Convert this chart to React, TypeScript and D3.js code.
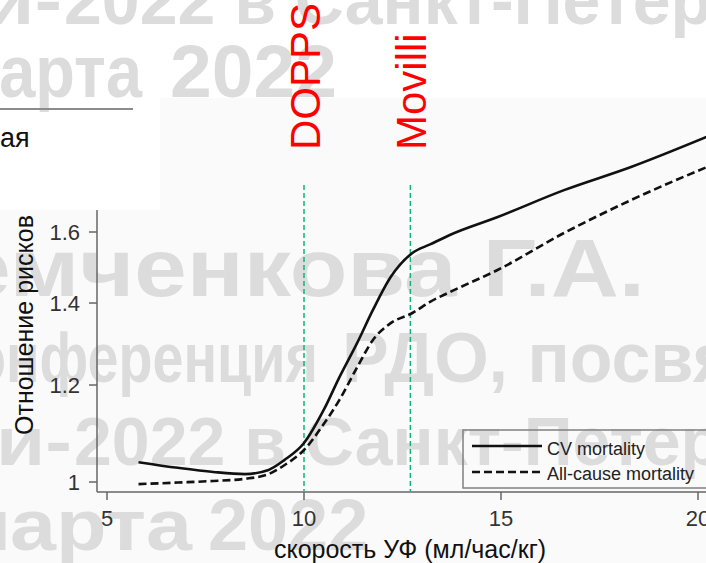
import React from "react";
import * as d3 from "d3";

// ultrafiltration rate (ml/h/kg) and hazard ratios
const ufRate = [5.8, 6.8, 7.7, 8.5, 9.1, 9.5, 10.0, 10.5, 10.9, 11.35, 11.75, 12.2, 12.75, 13.2, 13.7, 14.9, 16.6, 18.3, 20.3];
const cvMortality = [1.038, 1.027, 1.019, 1.015, 1.023, 1.042, 1.076, 1.145, 1.218, 1.299, 1.382, 1.47, 1.538, 1.563, 1.591, 1.645, 1.731, 1.808, 1.918];
const allCauseMortality = [0.996, 0.999, 1.002, 1.006, 1.015, 1.032, 1.062, 1.115, 1.167, 1.241, 1.306, 1.348, 1.374, 1.403, 1.429, 1.489, 1.597, 1.699, 1.812];

const xTickValues = [5, 10, 15, 20];
const yTickValues = [1, 1.2, 1.4, 1.6];

const refNames = ["DOPPS", "Movilli"];
const refRates = [10, 12.7];

const legendLabels = ["CV mortality", "All-cause mortality"];

const FONT = "'Liberation Sans', Arial, Helvetica, sans-serif";

export default function App() {
  const W = 706;
  const H = 563;
  const left = 97;
  const bottom = 492;
  const top = 210;

  const x = d3.scaleLinear().domain([5, 20]).range([107, 698]);
  const y = d3.scaleLog().domain([1, 1.6]).range([482, 232]);

  const makeLine = (vals: number[]) =>
    d3
      .line<number>()
      .x((d, i) => x(ufRate[i]))
      .y((d) => y(d))
      .curve(d3.curveMonotoneX)(vals) || "";

  // background watermark of the slide (len = stretched width where the piece is squeezed)
  const wm: { t: string; x: number; y: number; s: number; a: string; len?: number }[] = [
    { t: "ки-", x: -58, y: 24, s: 68, a: "start", len: 120 },
    { t: "2022 в Санкт-Петербурге", x: 64, y: 24, s: 68, a: "start" },
    { t: "марта", x: -48, y: 97, s: 75, a: "start", len: 190 },
    { t: "2022", x: 170, y: 97, s: 75, a: "start" },
    { t: "Демченкова Г.А.", x: -110, y: 296, s: 82, a: "start", len: 755 },
    { t: "Конференция", x: -62, y: 382, s: 70, a: "start", len: 380 },
    { t: "РДО, посвящённая", x: 342, y: 382, s: 70, a: "start" },
    { t: "ки-", x: -44, y: 465, s: 68, a: "start", len: 116 },
    { t: "2022 в Санкт-Петербурге", x: 74, y: 465, s: 68, a: "start" },
    { t: "марта", x: -50, y: 550, s: 72, a: "start", len: 242 },
    { t: "2022", x: 208, y: 550, s: 72, a: "start" },
  ];

  return (
    <svg
      width={W}
      height={H}
      style={{ position: "absolute", left: 0, top: 0, background: "#fff" }}
      fontFamily={FONT}
    >
      <defs>
        <clipPath id="ytitle-clip">
          <rect x={0} y={top} width={100} height={H - top} />
        </clipPath>
      </defs>

      <path d={`M0,${top}H${W}V${H}H0Z M160,98H${W}V${top}H160Z`} fill="#fafafa" />

      <g fill="#dcdcdc" fontWeight="bold">
        {wm.map((w, i) => (
          <text
            key={i}
            x={w.x}
            y={w.y}
            fontSize={w.s}
            textAnchor={w.a}
            textLength={w.len}
            lengthAdjust={w.len ? "spacingAndGlyphs" : undefined}
          >
            {w.t}
          </text>
        ))}
      </g>

      {/* slide fragment in the top-left */}
      <line x1={0} x2={133} y1={109} y2={109} stroke="#8c8c8c" strokeWidth={2} />
      <text x={0} y={147} fontSize={27} fill="#111">
        ая
      </text>

      {/* axes */}
      <g stroke="#666" strokeWidth={1.5}>
        <line x1={left} x2={left} y1={top} y2={bottom} />
        <line x1={left} x2={W} y1={bottom} y2={bottom} />
        {yTickValues.map((v) => (
          <line key={v} x1={left - 8} x2={left} y1={y(v)} y2={y(v)} />
        ))}
        {xTickValues.map((v) => (
          <line key={v} x1={x(v)} x2={x(v)} y1={bottom} y2={bottom + 8} />
        ))}
      </g>
      <g fontSize={22} fill="#333">
        {yTickValues.map((v) => (
          <text key={v} x={80} y={y(v)} dy="0.36em" textAnchor="end">
            {String(v)}
          </text>
        ))}
        {xTickValues.map((v) => (
          <text key={v} x={x(v)} y={526} textAnchor="middle">
            {v}
          </text>
        ))}
      </g>
      <text x={410} y={558} fontSize={25} textAnchor="middle" fill="#111">
        скорость УФ (мл/час/кг)
      </text>
      <g clipPath="url(#ytitle-clip)">
        <text transform="translate(33,435) rotate(-90)" fontSize={25} fill="#111">
          Отношение рисков
        </text>
      </g>

      {/* reference lines */}
      {refRates.map((r, i) => (
        <g key={refNames[i]}>
          <line
            x1={x(r)}
            x2={x(r)}
            y1={185}
            y2={bottom - 1}
            stroke="#14b07f"
            strokeWidth={1.5}
            strokeDasharray="5,3"
          />
          <text
            transform={`translate(${x(r) + 16},150) rotate(-90)`}
            fontSize={42}
            fill="#ff0000"
          >
            {refNames[i]}
          </text>
        </g>
      ))}

      {/* curves */}
      <path d={makeLine(cvMortality)} fill="none" stroke="#111" strokeWidth={2.6} />
      <path
        d={makeLine(allCauseMortality)}
        fill="none"
        stroke="#111"
        strokeWidth={2.6}
        strokeDasharray="8,4"
      />

      {/* legend */}
      <rect x={463} y={430} width={270} height={58} fill="none" stroke="#808080" strokeWidth={1.5} />
      {legendLabels.map((l, i) => (
        <g key={l}>
          <line
            x1={472}
            x2={542}
            y1={446 + i * 26}
            y2={446 + i * 26}
            stroke="#111"
            strokeWidth={2.6}
            strokeDasharray={i === 1 ? "8,4" : undefined}
          />
          <text x={547} y={455 + i * 25} fontSize={18} fill="#222">
            {l}
          </text>
        </g>
      ))}
    </svg>
  );
}
